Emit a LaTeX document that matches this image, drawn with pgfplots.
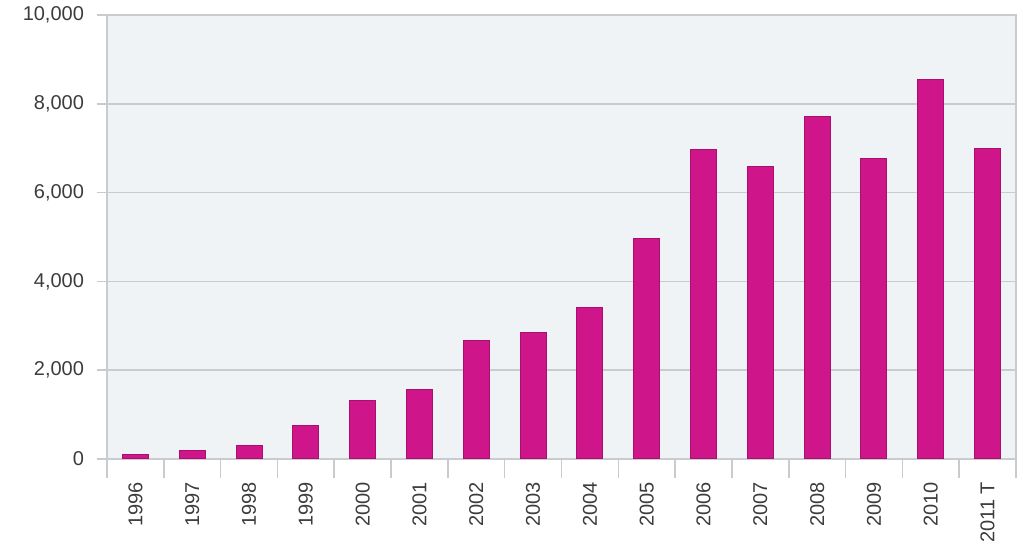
\documentclass[border=0pt]{standalone}
\usepackage{pgfplots}
\pgfplotsset{compat=1.18}
\usepackage{fontspec}
\setmainfont{Liberation Sans}

\definecolor{barfill}{RGB}{206,22,138}
\definecolor{baredge}{RGB}{170,14,110}
\definecolor{panel}{RGB}{239,243,246}
\definecolor{rule}{RGB}{200,204,206}
\definecolor{labeltext}{RGB}{60,60,60}

\begin{document}
\begin{tikzpicture}
\path[use as bounding box] (-53.5pt,-42.5pt) rectangle (458pt,229.5pt);
\begin{axis}[
  scale only axis,
  width=454.5pt, height=222pt,
  xmin=-0.5, xmax=15.5,
  ymin=0, ymax=10000,
  ytick={0,2000,...,10000},
  % category separators below the axis
  xtick={-0.5,0.5,...,15.5},
  xticklabels={},
  % category names
  extra x ticks={0,...,15},
  extra x tick labels={1996,1997,1998,1999,2000,2001,2002,2003,2004,2005,2006,2007,2008,2009,2010,2011 T},
  extra x tick style={xtick style={draw=none}},
  xtick pos=bottom, ytick pos=left,
  tick align=outside,
  major tick length=5pt,
  xtick style={draw=rule, line width=0.8pt, /pgfplots/major tick length=9.5pt},
  ytick style={draw=rule, line width=0.8pt},
  ymajorgrids,
  grid style={draw=rule, line width=0.8pt},
  axis line style={draw=rule, line width=0.8pt},
  axis background/.style={fill=panel},
  /pgf/number format/assume math mode=true,
  /pgf/number format/1000 sep={,},
  scaled y ticks=false,
  ticklabel style={font=\fontsize{10}{12}\selectfont, text=labeltext},
  xticklabel style={rotate=90, anchor=east},
  xticklabel shift=3pt,
  yticklabel shift=3pt,
  ybar, bar width=13pt,
]
\addplot[fill=barfill, draw=baredge, line width=0.5pt] coordinates {
  (0,100) (1,190) (2,300) (3,750) (4,1315) (5,1575)
  (6,2680) (7,2845) (8,3415) (9,4960) (10,6970) (11,6590)
  (12,7710) (13,6770) (14,8545) (15,6990)
};
\end{axis}
\end{tikzpicture}
\end{document}
